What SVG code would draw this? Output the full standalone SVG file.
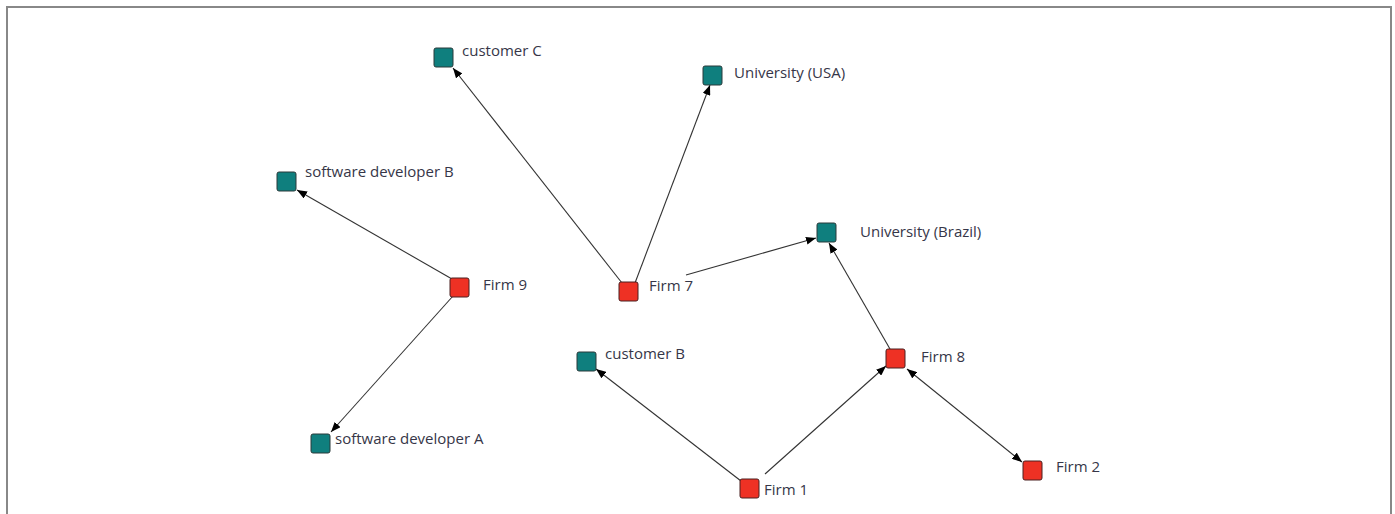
<svg xmlns="http://www.w3.org/2000/svg" width="1395" height="514" viewBox="0 0 1395 514">
<style>
.t{fill:#0f7f7e;stroke:#2a3a3a;stroke-width:1}
.r{fill:#ee3124;stroke:#4a2020;stroke-width:1}
.lbl{font-family:"Open Sans","Liberation Sans",sans-serif;font-size:15px;fill:#363648}
.e{stroke:#333;stroke-width:1.1;fill:none}
</style>
<defs>
<marker id="ah" viewBox="0 0 10 8" refX="10" refY="4" markerWidth="10" markerHeight="8" markerUnits="userSpaceOnUse" orient="auto-start-reverse">
<path d="M0,0 L10,4 L0,8 z" fill="#000"/>
</marker>
</defs>
<rect width="1395" height="514" fill="#fff"/>
<path d="M7,514 V7 H1391 V514" fill="none" stroke="#888" stroke-width="2"/>
<g id="connectors">
<path class="e" d="M622,283 L453,68" marker-end="url(#ah)"/>
<path class="e" d="M635,283 L710,85" marker-end="url(#ah)"/>
<path class="e" d="M686,275 L816,238" marker-end="url(#ah)"/>
<path class="e" d="M452,279 L297,190" marker-end="url(#ah)"/>
<path class="e" d="M453,296 L331,432" marker-end="url(#ah)"/>
<path class="e" d="M890,349 L829,243" marker-end="url(#ah)"/>
<path class="e" d="M741,481 L596,369" marker-end="url(#ah)"/>
<path class="e" d="M765,474 L886,366" marker-end="url(#ah)"/>
<path class="e" d="M907,369 L1022,462" marker-start="url(#ah)" marker-end="url(#ah)"/>
</g>
<g id="customerC"><rect class="t" x="434" y="48" width="19" height="19" rx="2"/><text class="lbl" x="462" y="56">customer C</text></g>
<g id="univUSA"><rect class="t" x="703" y="66" width="19" height="19" rx="2"/><text class="lbl" x="734" y="78">University (USA)</text></g>
<g id="devB"><rect class="t" x="277" y="172" width="19" height="19" rx="2"/><text class="lbl" x="305" y="177">software developer B</text></g>
<g id="firm9"><rect class="r" x="450" y="278" width="19" height="19" rx="2"/><text class="lbl" x="483" y="290">Firm 9</text></g>
<g id="firm7"><rect class="r" x="619" y="282" width="19" height="19" rx="2"/><text class="lbl" x="649" y="291">Firm 7</text></g>
<g id="univBrazil"><rect class="t" x="817" y="223" width="19" height="19" rx="2"/><text class="lbl" x="860" y="237">University (Brazil)</text></g>
<g id="customerB"><rect class="t" x="577" y="352" width="19" height="19" rx="2"/><text class="lbl" x="605" y="359">customer B</text></g>
<g id="firm8"><rect class="r" x="886" y="349" width="19" height="19" rx="2"/><text class="lbl" x="921" y="362">Firm 8</text></g>
<g id="firm1"><rect class="r" x="740" y="479" width="19" height="19" rx="2"/><text class="lbl" x="764" y="495">Firm 1</text></g>
<g id="firm2"><rect class="r" x="1023" y="461" width="19" height="19" rx="2"/><text class="lbl" x="1056" y="472">Firm 2</text></g>
<g id="devA"><rect class="t" x="311" y="434" width="19" height="19" rx="2"/><text class="lbl" x="335" y="444">software developer A</text></g>
</svg>
